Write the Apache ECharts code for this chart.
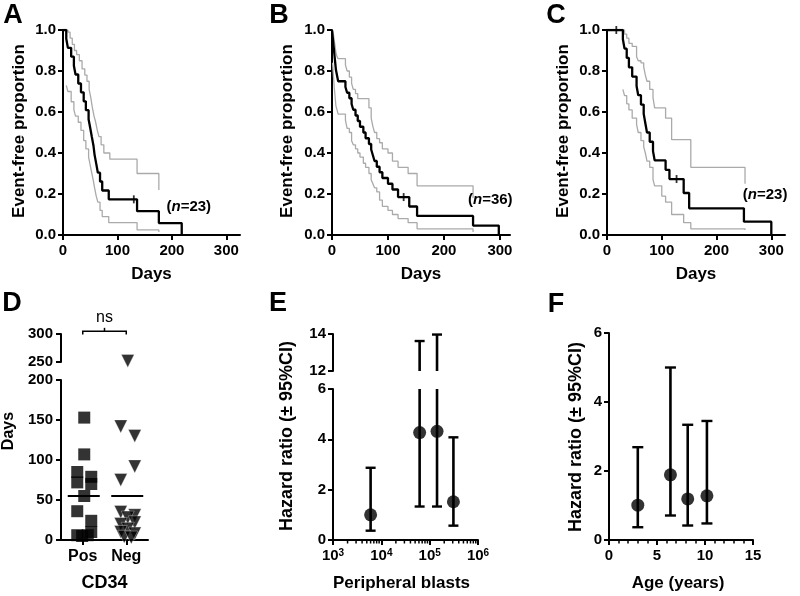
<!DOCTYPE html>
<html><head><meta charset="utf-8">
<script src="https://cdn.jsdelivr.net/npm/echarts@6/dist/echarts.min.js"></script>
<style>html,body{margin:0;padding:0;background:#fff}#c{width:800px;height:596px}</style>
</head><body><div id="c"></div>
<script>
// ---------- DATA ----------
// Kaplan-Meier panels: [day, proportion]
const kmDayTicks = [0, 100, 200, 300];
const kmA   = [[0,1],[6,0.957],[9,0.913],[15,0.870],[20,0.826],[23,0.783],[28,0.739],[33,0.696],[38,0.652],[42,0.609],[47,0.565],[50,0.522],[53,0.478],[56,0.435],[58,0.391],[61,0.348],[64,0.304],[68,0.261],[72,0.217],[84,0.174],[136,0.116],[176,0.058],[218,0]];
const kmAUp = [[0,1],[9,0.99],[13,0.96],[17,0.93],[21,0.90],[25,0.88],[30,0.85],[35,0.81],[40,0.78],[44,0.75],[48,0.71],[51,0.67],[54,0.62],[57,0.58],[60,0.55],[63,0.51],[66,0.48],[70,0.44],[75,0.40],[86,0.37],[136,0.30],[176,0.22]];
const kmALo = [[6,0.73],[9,0.70],[15,0.65],[20,0.61],[23,0.58],[28,0.55],[33,0.51],[38,0.46],[42,0.42],[47,0.38],[50,0.34],[53,0.30],[56,0.26],[58,0.23],[61,0.19],[64,0.16],[68,0.12],[72,0.09],[84,0.06],[136,0.025],[176,0.015]];
const censA = [[130,0.174]];

const kmB   = [[0,1],[1,0.972],[2,0.944],[3,0.917],[4,0.889],[5,0.861],[6,0.833],[7,0.806],[9,0.778],[11,0.75],[24,0.722],[27,0.694],[31,0.667],[35,0.639],[38,0.611],[42,0.583],[46,0.556],[50,0.528],[56,0.5],[60,0.472],[66,0.444],[70,0.417],[73,0.389],[76,0.361],[80,0.333],[85,0.306],[90,0.278],[100,0.25],[108,0.222],[118,0.185],[138,0.139],[152,0.093],[252,0.046],[298,0]];
const kmBUp = [[0,1],[2,0.99],[3,0.97],[4,0.95],[5,0.93],[6,0.91],[7,0.89],[9,0.87],[11,0.86],[24,0.83],[27,0.80],[31,0.77],[35,0.74],[38,0.71],[42,0.69],[46,0.665],[66,0.62],[70,0.57],[73,0.53],[76,0.50],[80,0.47],[85,0.45],[90,0.42],[100,0.40],[108,0.36],[118,0.33],[136,0.30],[152,0.24],[252,0.18]];
const kmBLo = [[1,0.84],[2,0.80],[3,0.76],[4,0.72],[5,0.69],[6,0.66],[7,0.63],[9,0.61],[11,0.59],[24,0.56],[27,0.52],[31,0.50],[35,0.46],[38,0.44],[42,0.42],[46,0.40],[50,0.38],[56,0.35],[60,0.33],[66,0.30],[70,0.27],[73,0.25],[76,0.23],[80,0.21],[85,0.17],[90,0.14],[100,0.12],[108,0.10],[118,0.08],[136,0.06],[152,0.03],[252,0.015]];
const censB = [[128,0.185]];

const kmC   = [[0,1],[29,0.955],[32,0.909],[36,0.864],[40,0.818],[46,0.773],[54,0.727],[57,0.682],[62,0.636],[67,0.591],[70,0.545],[73,0.5],[78,0.455],[84,0.409],[87,0.364],[107,0.318],[114,0.273],[140,0.205],[150,0.13],[250,0.065],[300,0]];
const kmCUp = [[0,1],[32,0.98],[36,0.96],[40,0.935],[46,0.92],[54,0.87],[57,0.85],[62,0.84],[67,0.82],[70,0.78],[73,0.75],[78,0.71],[84,0.67],[87,0.62],[107,0.57],[118,0.465],[153,0.33],[252,0.25]];
const kmCLo = [[29,0.71],[32,0.68],[36,0.64],[40,0.61],[46,0.57],[54,0.54],[57,0.50],[62,0.46],[67,0.43],[70,0.40],[73,0.36],[78,0.33],[84,0.27],[87,0.24],[100,0.19],[107,0.16],[118,0.10],[140,0.06],[153,0.03],[252,0.025]];
const censC = [[17,1.0],[127,0.273]];

const nLabels = ['23', '36', '23'];

// Panel D: CD34 scatter (days), horizontal jitter column for each point
const dCategories = ['Pos', 'Neg'];
const posDays = [153,107,85,72,79,70,55,36,24,6,5,6,10];
const posCol  = [0,0,-1,-1,1,1,0,-1,1,-1,-0.3,0.5,1];
const negDays = [252,142,130,92,75,35,31,28,20,22,14,10,8,4,3];
const negCol  = [0,-1,1,1,-1,-1,1,0,-1,1,0,-1,1,-0.5,0.5];
const meanDays = [55, 55];
const dLowTicks = [0, 200];   // lower segment range
const dHighTicks = [250, 300]; // upper segment range

// Panel E: hazard ratio vs peripheral blasts
const eBlasts = [6000, 62000, 142000, 310000];
const eHR     = [1.0, 4.27, 4.32, 1.52];
const eLow    = [0.37, 1.33, 1.33, 0.57];
const eHigh   = [2.87, 13.62, 13.97, 4.08];

// Panel F: hazard ratio vs age
const fAge  = [3.0, 6.4, 8.2, 10.2];
const fHR   = [1.01, 1.89, 1.19, 1.28];
const fLow  = [0.37, 0.71, 0.42, 0.48];
const fHigh = [2.69, 5.0, 3.34, 3.45];

// ---------- CHART ----------
const F = '"Liberation Sans", Arial, sans-serif';
const chart = echarts.init(document.getElementById('c'));

function axis(extra) {
  const o = {
    type: 'value',
    axisLine: {show: true, onZero: false, lineStyle: {color: '#000', width: 2}},
    axisTick: {show: true, length: 5, lineStyle: {color: '#000', width: 2}},
    axisLabel: {color: '#000', fontWeight: 'bold', fontSize: 15, fontFamily: F, margin: 7},
    splitLine: {show: false}
  };
  for (const k in extra) {
    if (o[k] && typeof o[k] === 'object' && extra[k] && typeof extra[k] === 'object' && !Array.isArray(extra[k]))
      o[k] = Object.assign({}, o[k], extra[k]);
    else o[k] = extra[k];
  }
  return o;
}

const grids = [
  {left: 63, top: 30, width: 177, height: 205},
  {left: 332, top: 30, width: 178, height: 205},
  {left: 607, top: 30, width: 178, height: 205},
  {left: 61, top: 380, width: 87, height: 160},
  {left: 61, top: 334, width: 87, height: 28},
  {left: 333, top: 389, width: 145, height: 151},
  {left: 333, top: 334, width: 145, height: 37},
  {left: 609, top: 333, width: 144, height: 207}
];

const kmMax = [325, 318, 325];
const xAxes = [];
const yAxes = [];
for (let i = 0; i < 3; i++) {
  xAxes.push(axis({gridIndex: i, min: 0, max: kmMax[i], interval: 100,
    axisTick: {customValues: kmDayTicks},
    axisLabel: {customValues: kmDayTicks, margin: 8}}));
  yAxes.push(axis({gridIndex: i, min: 0, max: 1, interval: 0.2,
    axisLabel: {formatter: v => v.toFixed(1), margin: 7}}));
}
// D
xAxes.push(axis({type: 'category', gridIndex: 3, data: dCategories, boundaryGap: true,
  axisTick: {alignWithLabel: true, length: 5},
  axisLabel: {fontSize: 16, margin: 9}}));
yAxes.push(axis({gridIndex: 3, min: dLowTicks[0], max: dLowTicks[1], interval: 50, axisLabel: {margin: 8}}));
xAxes.push({type: 'category', gridIndex: 4, data: dCategories, boundaryGap: true, show: false});
yAxes.push(axis({gridIndex: 4, min: dHighTicks[0], max: dHighTicks[1], interval: 50, axisLabel: {margin: 8}}));
// E
const richLog = {
  b: {fontSize: 15, fontWeight: 'bold', color: '#000', fontFamily: F, verticalAlign: 'bottom'},
  s: {fontSize: 10, fontWeight: 'bold', color: '#000', fontFamily: F, verticalAlign: 'top'}
};
xAxes.push(axis({type: 'log', logBase: 10, gridIndex: 5, min: 1e3, max: 1e6,
  axisLabel: {margin: 8, formatter: v => '{b|10}{s|' + Math.round(Math.log10(v)) + '}', rich: richLog}}));
yAxes.push(axis({gridIndex: 5, min: 0, max: 6, interval: 2}));
xAxes.push({type: 'log', logBase: 10, gridIndex: 6, min: 1e3, max: 1e6, show: false});
yAxes.push(axis({gridIndex: 6, min: 12, max: 14, interval: 2}));
// F
xAxes.push(axis({gridIndex: 7, min: 0, max: 15, interval: 5,
  minorTick: {show: true, splitNumber: 5, length: 3.5, lineStyle: {color: '#000', width: 1.5}},
  axisLabel: {margin: 8}}));
yAxes.push(axis({gridIndex: 7, min: 0, max: 6, interval: 2}));

const series = [];
function km(data, gi, gray) {
  series.push({type: 'line', xAxisIndex: gi, yAxisIndex: gi, data: data, step: 'end',
    symbol: 'none', showSymbol: false,
    lineStyle: gray ? {color: '#aaaaaa', width: 1.3} : {color: '#000', width: 2.3},
    z: gray ? 2 : 3});
}
function cens(data, gi) {
  series.push({type: 'scatter', xAxisIndex: gi, yAxisIndex: gi, data: data,
    symbol: 'rect', symbolSize: [1.8, 8], itemStyle: {color: '#000'}, z: 4});
}
[[kmA, kmAUp, kmALo, censA], [kmB, kmBUp, kmBLo, censB], [kmC, kmCUp, kmCLo, censC]].forEach((p, i) => {
  km(p[1], i, true); km(p[2], i, true); km(p[0], i, false); cens(p[3], i);
});

// D scatter
function dPoints(vals, cols, cat, lo, hi) {
  const out = [];
  vals.forEach((v, i) => {
    if (v >= lo && v <= hi) out.push({value: [cat, v], symbolOffset: [cols[i] * 7 + 1.5, 0]});
  });
  return out;
}
[[3, dLowTicks], [4, dHighTicks]].forEach(([gi, rng]) => {
  series.push({type: 'scatter', xAxisIndex: gi, yAxisIndex: gi, symbol: 'rect', symbolSize: 12,
    itemStyle: {color: '#000'}, data: dPoints(posDays, posCol, 0, rng[0], rng[1])});
  series.push({type: 'scatter', xAxisIndex: gi, yAxisIndex: gi, symbol: 'triangle', symbolRotate: 180, symbolSize: 13,
    itemStyle: {color: '#000', borderColor: '#fff', borderWidth: 0.4}, data: dPoints(negDays, negCol, 1, rng[0], rng[1])});
});
series.push({type: 'custom', xAxisIndex: 3, yAxisIndex: 3, data: meanDays.map((m, i) => [i, m]),
  renderItem: (params, api) => {
    const p = api.coord([api.value(0), api.value(1)]);
    return {type: 'line', shape: {x1: p[0] - 15, y1: p[1], x2: p[0] + 17, y2: p[1]},
      style: {stroke: '#000', lineWidth: 2}};
  }, z: 5});

// error bars
function errSeries(gi, xs, lo, hi, ymin, ymax, cap) {
  series.push({type: 'custom', xAxisIndex: gi, yAxisIndex: gi,
    data: xs.map((x, i) => [x, lo[i], hi[i]]),
    renderItem: (params, api) => {
      const x = api.value(0), l = api.value(1), h = api.value(2);
      const a = Math.max(l, ymin), b = Math.min(h, ymax);
      if (a > b) return null;
      const p1 = api.coord([x, a]), p2 = api.coord([x, b]);
      const ch = [{type: 'line', shape: {x1: p1[0], y1: p1[1], x2: p2[0], y2: p2[1]},
        style: {stroke: '#000', lineWidth: 2.6}}];
      [l, h].forEach(v => {
        if (v >= ymin && v <= ymax) {
          const q = api.coord([x, v]);
          ch.push({type: 'line', shape: {x1: q[0] - cap, y1: q[1], x2: q[0] + cap, y2: q[1]},
            style: {stroke: '#000', lineWidth: 2.4}});
        }
      });
      return {type: 'group', children: ch};
    }, z: 3});
}
errSeries(5, eBlasts, eLow, eHigh, 0, 6, 5);
errSeries(6, eBlasts, eLow, eHigh, 12, 14, 5);
series.push({type: 'scatter', xAxisIndex: 5, yAxisIndex: 5, data: eBlasts.map((x, i) => [x, eHR[i]]),
  symbol: 'circle', symbolSize: 13, itemStyle: {color: '#000'}, z: 4});
errSeries(7, fAge, fLow, fHigh, 0, 6, 5.5);
series.push({type: 'scatter', xAxisIndex: 7, yAxisIndex: 7, data: fAge.map((x, i) => [x, fHR[i]]),
  symbol: 'circle', symbolSize: 13, itemStyle: {color: '#000'}, z: 4});

chart.setOption({animation: false, backgroundColor: '#fff', grid: grids, xAxis: xAxes, yAxis: yAxes, series: series});

// ---------- ANNOTATIONS ----------
const g = [];
function txt(text, x, y, size, opts) {
  opts = opts || {};
  g.push({type: 'text', x: x, y: y, rotation: opts.rot ? Math.PI / 2 : 0, z: 10,
    style: Object.assign({text: text, fill: '#000', fontSize: size, fontWeight: opts.weight || 'bold', fontFamily: F,
      align: opts.align || 'center', verticalAlign: 'middle',
      textAlign: opts.align || 'center', textVerticalAlign: 'middle'}, opts.style || {})});
}
// panel letters
[['A', 13, 16], ['B', 279, 16], ['C', 556, 16], ['D', 12, 304], ['E', 278, 304], ['F', 556, 305]]
  .forEach(l => txt(l[0], l[1], l[2], 27));
// y titles
txt('Event-free proportion', 19, 131, 17, {rot: true});
txt('Event-free proportion', 287, 131, 17, {rot: true});
txt('Event-free proportion', 563, 131, 17, {rot: true});
txt('Days', 9, 431, 16, {rot: true});
txt('Hazard ratio (\u00b1 95%CI)', 287, 436, 18, {rot: true});
txt('Hazard ratio (\u00b1 95%CI)', 576, 437, 18, {rot: true});
// x titles
const cx = i => grids[i].left + grids[i].width / 2;
txt('Days', cx(0), 274, 17);
txt('Days', cx(1), 274, 17);
txt('Days', cx(2), 274, 17);
txt('CD34', cx(3), 583, 18);
txt('Peripheral blasts', cx(5) - 4, 583, 17);
txt('Age (years)', cx(7) - 3, 583, 17);
// (n=..) labels
const nPos = [[190, 0.137], [243, 0.17], [248, 0.195]];
nLabels.forEach((n, i) => {
  const p = chart.convertToPixel({gridIndex: i}, nPos[i]);
  g.push({type: 'text', x: p[0], y: p[1], z: 10, style: {
    text: '({i|n}=' + n + ')', fill: '#000', fontSize: 15, fontWeight: 'bold', fontFamily: F,
    align: 'left', verticalAlign: 'middle', textAlign: 'left', textVerticalAlign: 'middle',
    rich: {i: {fontStyle: 'italic', fontWeight: 'bold', fontSize: 15, fontFamily: F, fill: '#000'}}}});
});
// ns bracket
const b0 = chart.convertToPixel({gridIndex: 4}, [0, 305]);
const b1 = chart.convertToPixel({gridIndex: 4}, [1, 305]);
const bEnd = chart.convertToPixel({gridIndex: 4}, [0, 299])[1];
const bMid = chart.convertToPixel({gridIndex: 4}, [0, 311])[1];
const mx = (b0[0] + b1[0]) / 2;
g.push({type: 'polyline', z: 10, shape: {points: [[b0[0], bEnd], [b0[0], b0[1]], [b1[0], b0[1]], [b1[0], bEnd]]},
  style: {stroke: '#000', lineWidth: 1.5, fill: null}});
g.push({type: 'line', z: 10, shape: {x1: mx, y1: b0[1], x2: mx, y2: bMid}, style: {stroke: '#000', lineWidth: 1.5}});
txt('ns', mx, b0[1] - 14, 16, {weight: 'normal'});
// log minor ticks on E
const yBase = chart.convertToPixel({gridIndex: 5}, [1e3, 0])[1];
for (let k = 3; k < 6; k++) {
  for (let m = 2; m <= 9; m++) {
    const x = chart.convertToPixel({gridIndex: 5}, [m * Math.pow(10, k), 0])[0];
    g.push({type: 'line', z: 10, shape: {x1: x, y1: yBase, x2: x, y2: yBase + 3.5}, style: {stroke: '#000', lineWidth: 1.5}});
  }
}
chart.setOption({graphic: g});
</script></body></html>
